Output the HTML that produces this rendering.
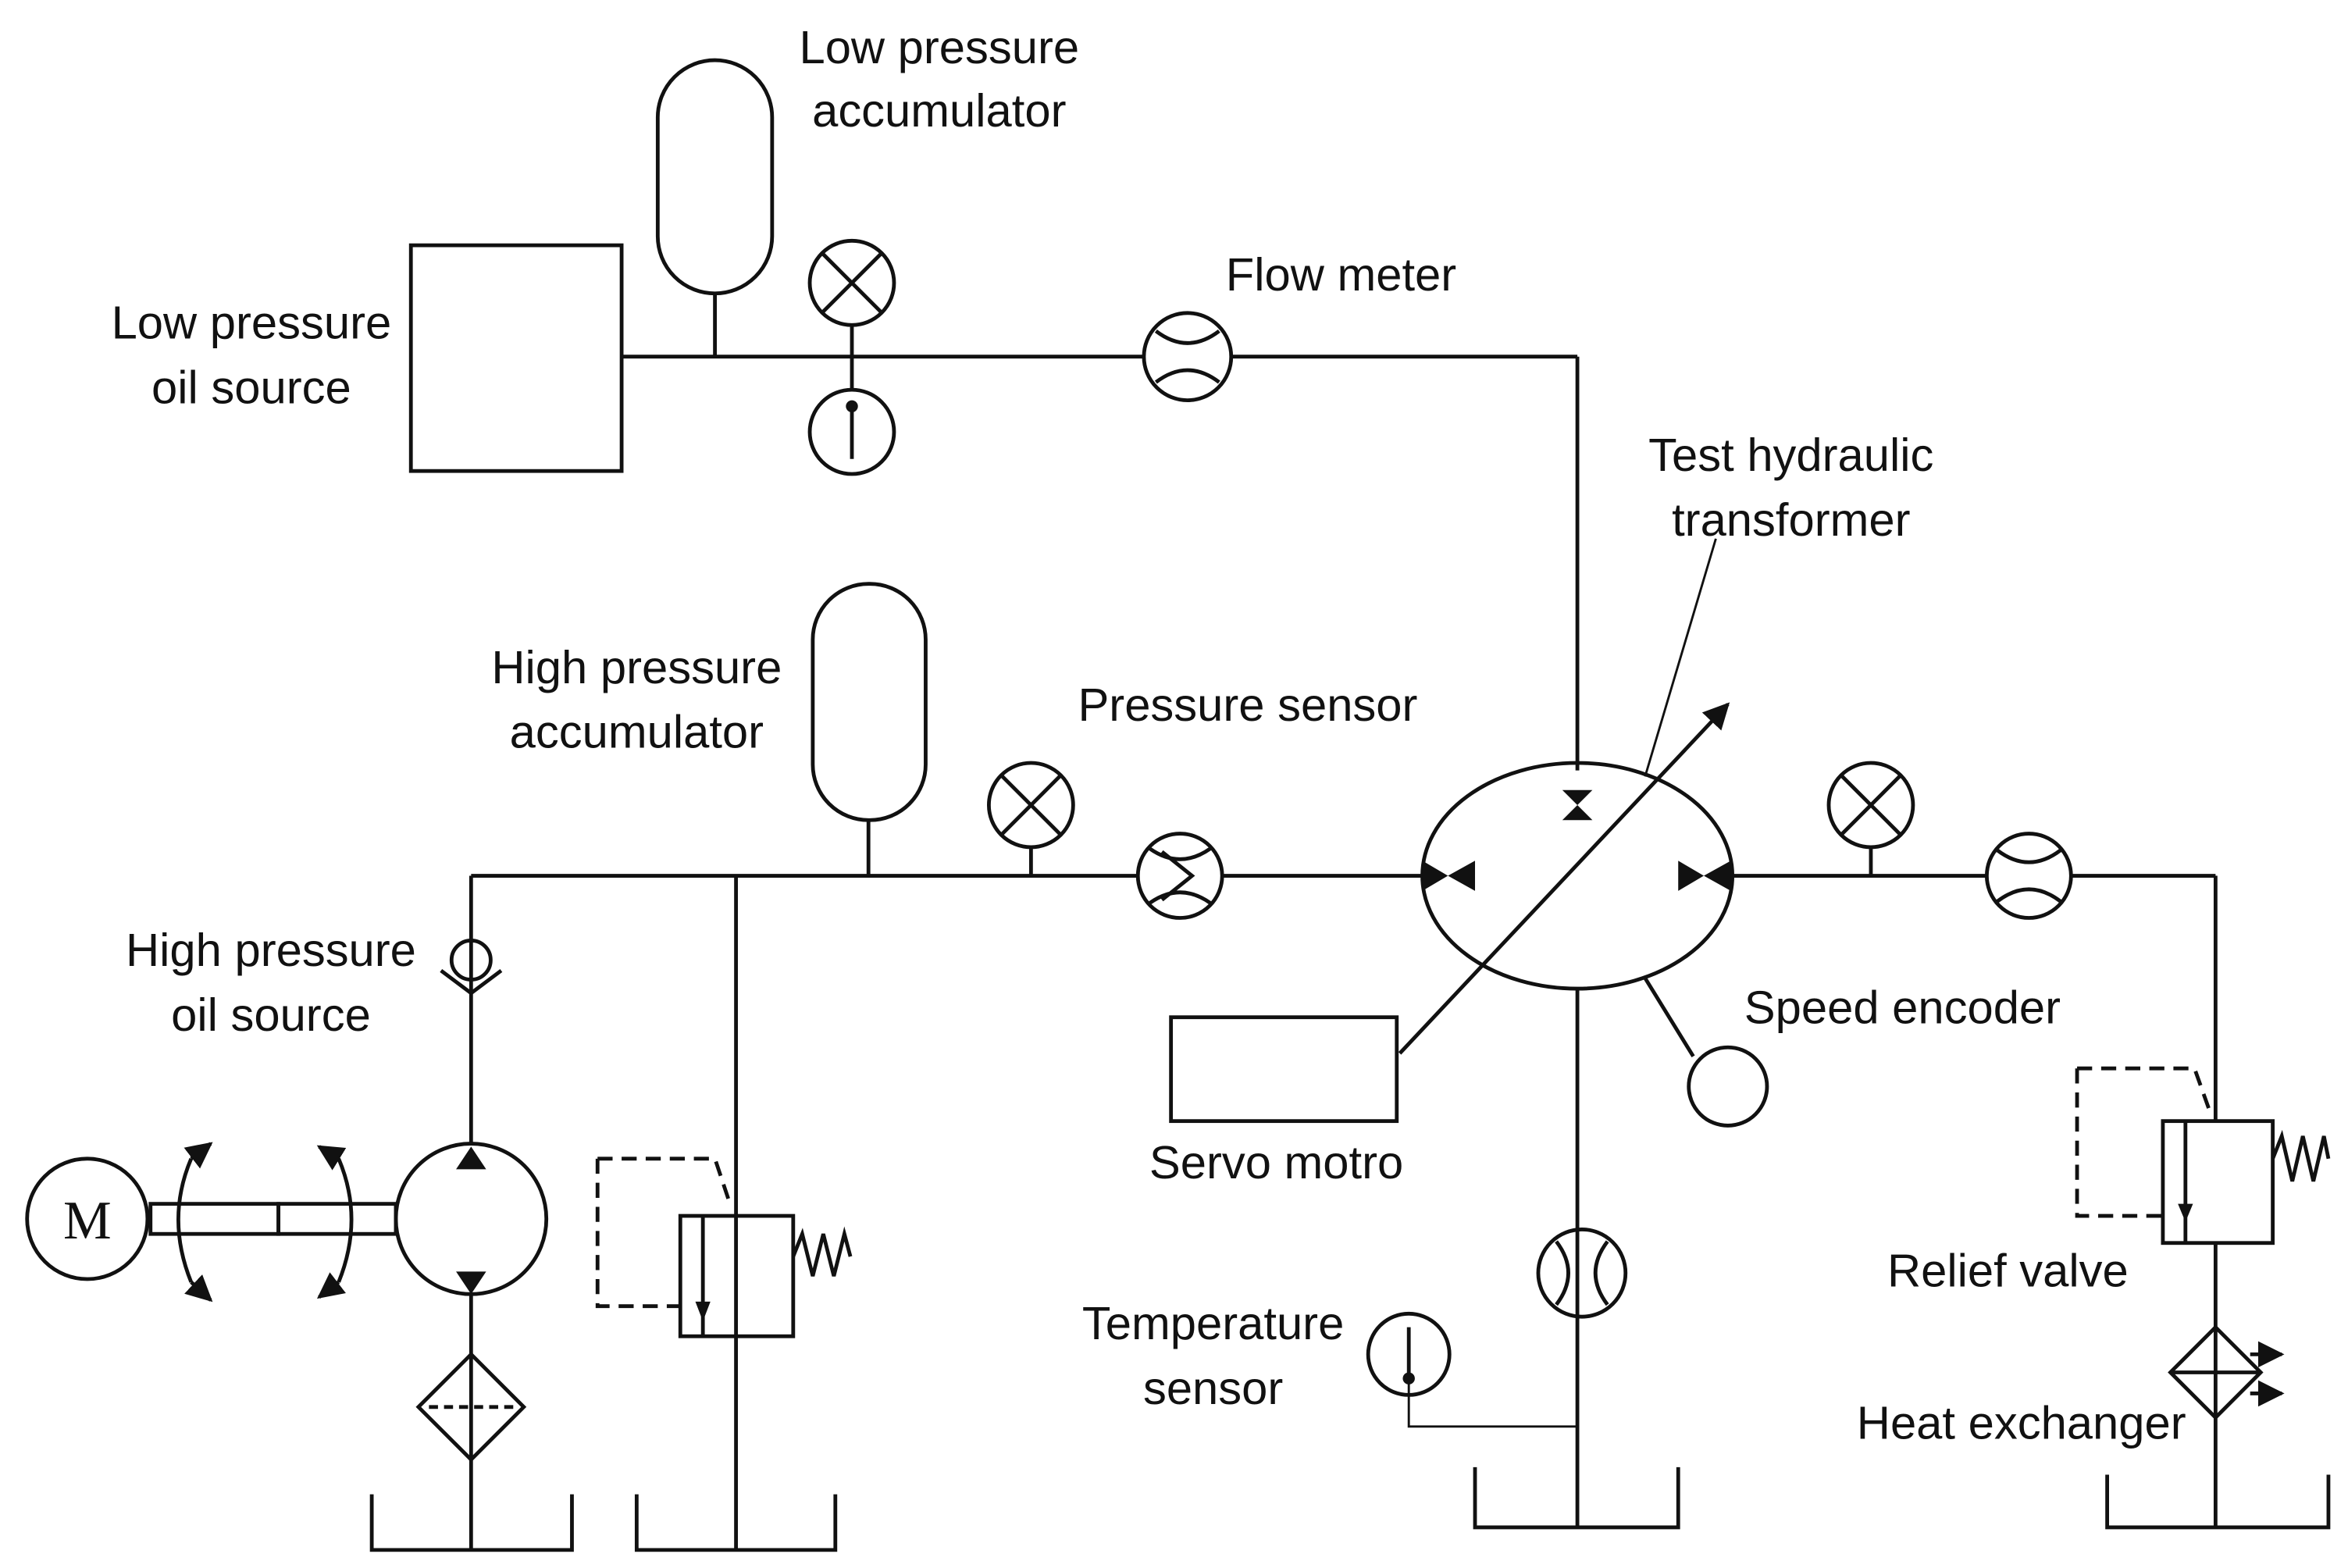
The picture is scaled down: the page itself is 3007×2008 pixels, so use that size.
<!DOCTYPE html>
<html><head><meta charset="utf-8"><style>html,body{margin:0;padding:0;background:#fff}svg{display:block}</style></head>
<body>
<svg width="3007" height="2008" viewBox="0 0 1560 1042" preserveAspectRatio="none" xmlns="http://www.w3.org/2000/svg">
<defs>
<marker id="ah" viewBox="0 0 10 10" refX="9" refY="5" markerWidth="7" markerHeight="7" orient="auto"><path d="M0,0L10,5L0,10z" fill="#111"/></marker>
</defs>
<g fill="none" stroke="#111" stroke-width="2.5">
<rect x="273" y="163" width="140" height="150"/>
<rect x="437" y="40" width="76" height="155" rx="38"/>
<line x1="475" y1="195" x2="475" y2="237"/>
<line x1="413" y1="237" x2="760" y2="237"/>
<line x1="818" y1="237" x2="1048" y2="237"/>
<line x1="1048" y1="237" x2="1048" y2="512"/>
<circle cx="566" cy="188" r="28"/><line x1="546" y1="168" x2="586" y2="208"/><line x1="586" y1="168" x2="546" y2="208"/>
<line x1="566" y1="216" x2="566" y2="259"/>
<circle cx="566" cy="287" r="28"/><line x1="566" y1="272" x2="566" y2="305"/>
<circle cx="789" cy="237" r="29"/><path d="M768,220 Q789,236 810,220 M768,254 Q789,238 810,254"/>
<line x1="313" y1="582" x2="755" y2="582"/>
<line x1="813" y1="582" x2="945" y2="582"/>
<line x1="1150" y1="582" x2="1320" y2="582"/>
<line x1="1377" y1="582" x2="1472" y2="582"/>
<line x1="1472" y1="582" x2="1472" y2="745"/>
<rect x="540" y="388" width="75" height="157" rx="37"/>
<line x1="577" y1="545" x2="577" y2="582"/>
<circle cx="685" cy="535" r="28"/><line x1="665" y1="515" x2="705" y2="555"/><line x1="705" y1="515" x2="665" y2="555"/><line x1="685" y1="563" x2="685" y2="582"/>
<circle cx="784" cy="582" r="28"/><path d="M764,564 Q784,578 804,564 M764,600 Q784,586 804,600"/><path d="M772,566 L792,582 L772,598"/>
<circle cx="1243" cy="535" r="28"/><line x1="1223" y1="515" x2="1263" y2="555"/><line x1="1263" y1="515" x2="1223" y2="555"/><line x1="1243" y1="563" x2="1243" y2="582"/>
<circle cx="1348" cy="582" r="28"/><path d="M1327,565 Q1348,581 1369,565 M1327,599 Q1348,583 1369,599"/>
<ellipse cx="1048" cy="582" rx="103" ry="75"/>
<line x1="930" y1="700" x2="1148" y2="468" marker-end="url(#ah)"/>
<line x1="1140" y1="358" x2="1093" y2="516" stroke-width="1.5"/>
<rect x="778" y="676" width="150" height="69"/>
<line x1="1093" y1="650" x2="1125" y2="702"/>
<circle cx="1148" cy="722" r="26"/>
<line x1="1048" y1="657" x2="1048" y2="1015"/>
<circle cx="1051" cy="846" r="29"/><path d="M1034,825 Q1050,846 1034,867 M1068,825 Q1052,846 1068,867"/>
<path d="M980,975 L980,1015 L1115,1015 L1115,975"/>
<circle cx="936" cy="900" r="27"/><line x1="936" y1="882" x2="936" y2="914"/>
<path d="M936,914 L936,948 L1048,948" stroke-width="1.5"/>
<line x1="313" y1="582" x2="313" y2="760"/>
<line x1="313" y1="860" x2="313" y2="1030"/>
<circle cx="313" cy="638" r="13"/><path d="M293,645 L313,660 L333,645"/>
<circle cx="313" cy="810" r="50"/>
<circle cx="58" cy="810" r="40"/>
<rect x="100" y="800" width="85" height="20"/><rect x="185" y="800" width="78" height="20"/>
<path d="M127,770 Q110,810 127,852" /><path d="M127,770 L140,760" marker-end="url(#ah)"/><path d="M127,852 L140,864" marker-end="url(#ah)"/>
<path d="M225,770 Q242,810 225,852" /><path d="M225,770 L212,762" marker-end="url(#ah)"/><path d="M225,852 L212,862" marker-end="url(#ah)"/>
<path d="M313,900 L348,935 L313,970 L278,935 Z"/><line x1="285" y1="935" x2="341" y2="935" stroke-dasharray="6,4"/>
<path d="M247,993 L247,1030 L380,1030 L380,993"/>
<line x1="489" y1="582" x2="489" y2="1030"/>
<path d="M423,993 L423,1030 L555,1030 L555,993"/>
<rect x="452" y="808" width="75" height="80"/><line x1="467" y1="808" x2="467" y2="888"/>
<path d="M397,770 L475,770 L485,800 M397,770 L397,868 L452,868" stroke-dasharray="10,6"/>
<path d="M527,835 L533,820 L540,848 L547,820 L554,848 L561,820 L565,835"/>
<rect x="1437" y="745" width="73" height="81"/><line x1="1452" y1="745" x2="1452" y2="826"/>
<path d="M1380,710 L1458,710 L1468,738 M1380,710 L1380,808 L1437,808" stroke-dasharray="10,6"/>
<path d="M1510,770 L1516,755 L1523,785 L1530,755 L1537,785 L1544,755 L1547,770"/>
<line x1="1472" y1="826" x2="1472" y2="882"/>
<path d="M1472,882 L1502,912 L1472,942 L1442,912 Z"/><line x1="1442" y1="912" x2="1502" y2="912"/><line x1="1472" y1="882" x2="1472" y2="942"/>
<line x1="1495" y1="900" x2="1516" y2="900" marker-end="url(#ah)"/><line x1="1495" y1="926" x2="1516" y2="926" marker-end="url(#ah)"/>
<line x1="1472" y1="942" x2="1472" y2="1015"/>
<path d="M1400,980 L1400,1015 L1547,1015 L1547,980"/>
</g>
<g fill="#111">
<circle cx="566" cy="270" r="4"/><circle cx="936" cy="916" r="4"/>
<path d="M1038,525 L1058,525 L1048,535Z M1038,545 L1058,545 L1048,535Z"/>
<path d="M945,572 L945,592 L962,582Z M980,572 L980,592 L962,582Z"/>
<path d="M1115,572 L1115,592 L1132,582Z M1150,572 L1150,592 L1132,582Z"/>
<path d="M303,777 L323,777 L313,762Z M303,845 L323,845 L313,860Z"/>
<path d="M462,865 L472,865 L467,878Z M1447,800 L1457,800 L1452,812Z"/>
</g>
<g font-family="Liberation Sans, sans-serif" font-size="31" fill="#111" text-anchor="middle">
<text x="167" y="225">Low pressure</text><text x="167" y="268">oil source</text>
<text x="624" y="42">Low pressure</text><text x="624" y="84">accumulator</text>
<text x="891" y="193">Flow meter</text>
<text x="1190" y="313">Test hydraulic</text><text x="1190" y="356">transformer</text>
<text x="423" y="454">High pressure</text><text x="423" y="497">accumulator</text>
<text x="829" y="479">Pressure sensor</text>
<text x="180" y="642">High pressure</text><text x="180" y="685">oil source</text>
<text x="1264" y="680">Speed encoder</text>
<text x="848" y="783">Servo motro</text>
<text x="806" y="890">Temperature</text><text x="806" y="933">sensor</text>
<text x="1334" y="855">Relief valve</text>
<text x="1343" y="956">Heat exchanger</text>
<text x="58" y="823" font-family="Liberation Serif, serif" font-size="36">M</text>
</g>
</svg>
</body></html>
